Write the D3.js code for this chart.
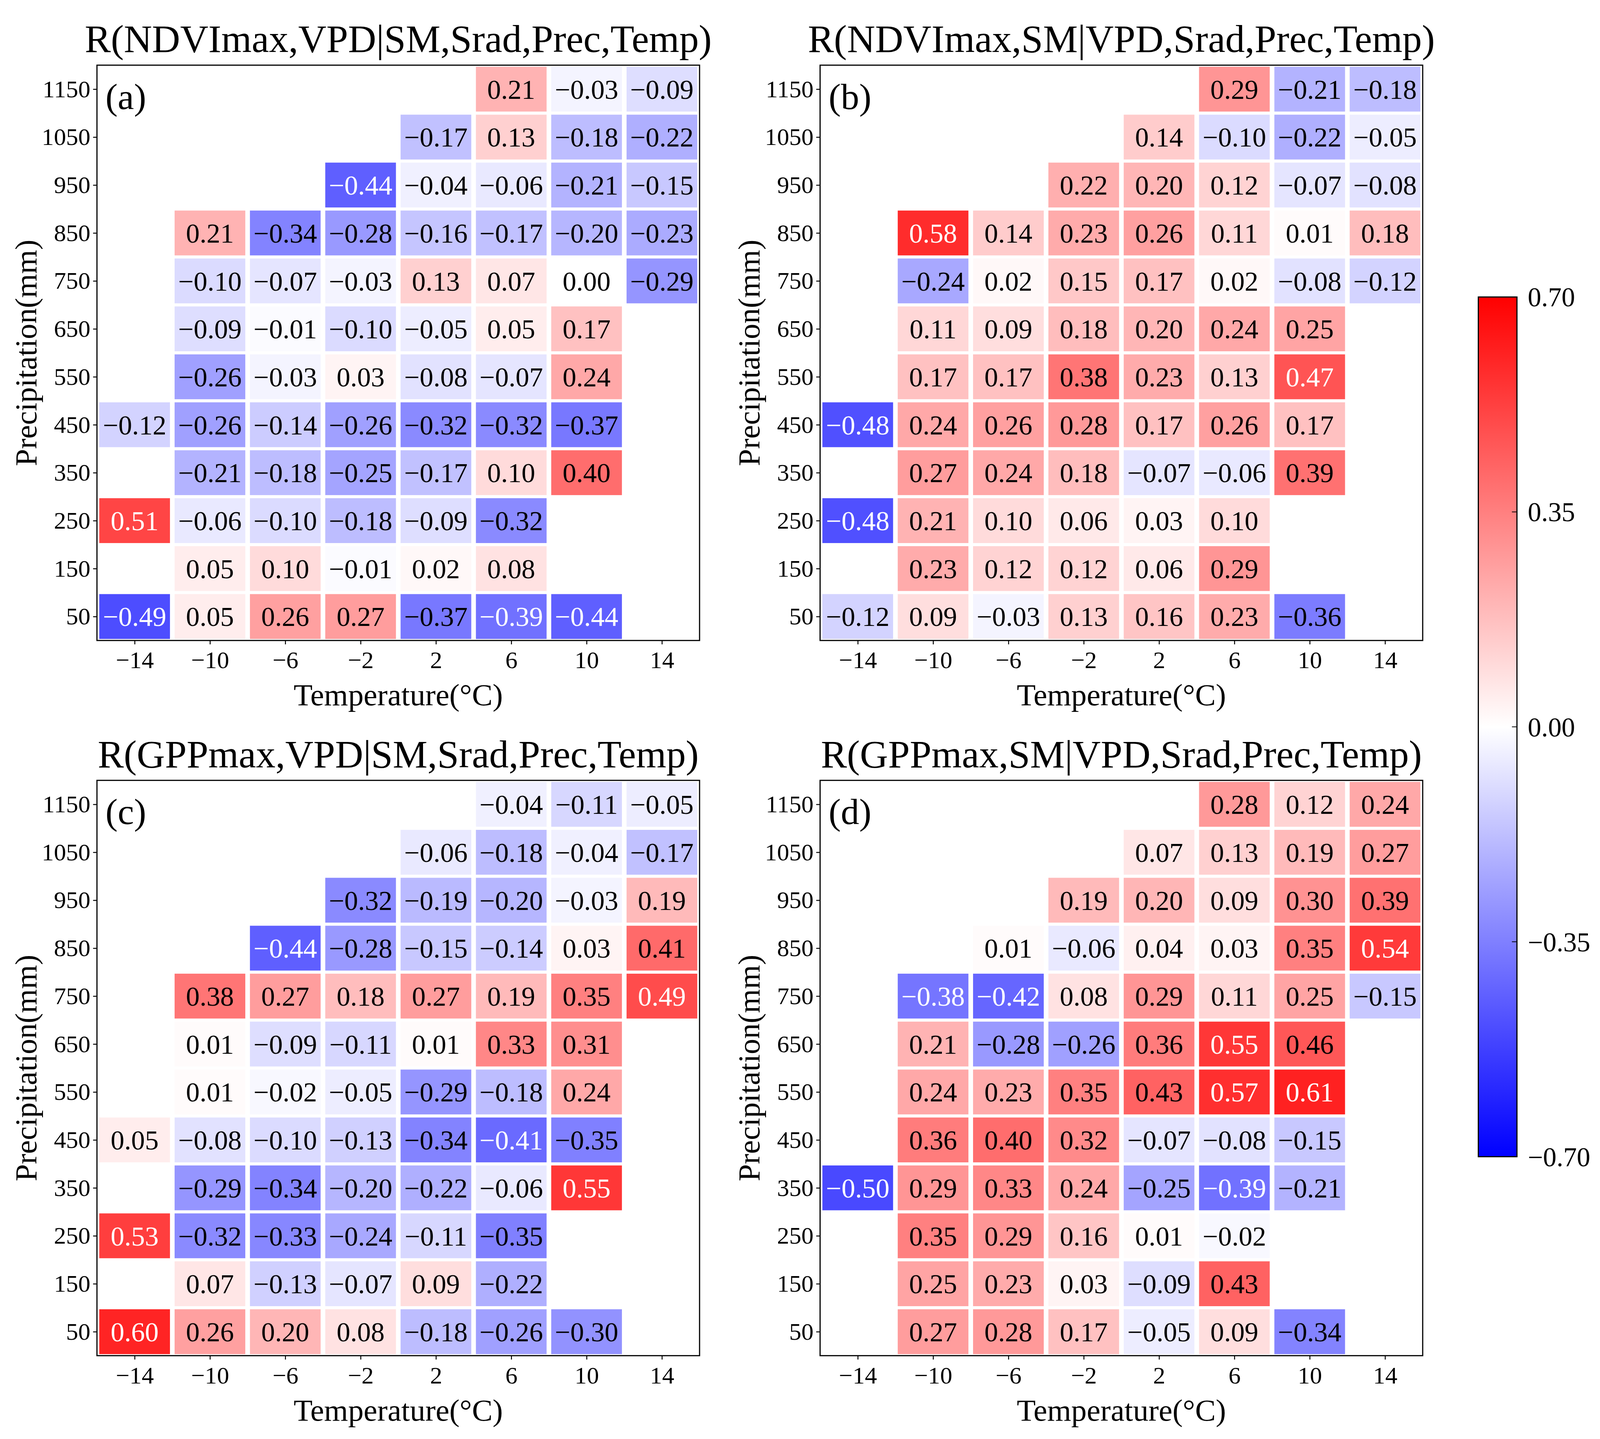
<!DOCTYPE html>
<html>
<head>
<meta charset="utf-8">
<script src="https://cdn.jsdelivr.net/npm/d3@7"></script>
<style>
  html, body { margin: 0; padding: 0; background: #fff; overflow: hidden; }
  svg { display: block; width: 100vw; height: 100vh; }
</style>
</head>
<body>
<div id="chart"></div>
<script>
const width = 4142;
const height = 3683;

// grid categories
const temps = [-14, -10, -6, -2, 2, 6, 10, 14];
const precs = [1150, 1050, 950, 850, 750, 650, 550, 450, 350, 250, 150, 50];
const cbTicks = [0.70, 0.35, 0.00, -0.35, -0.70];

const titles = [
    "R(NDVImax,VPD|SM,Srad,Prec,Temp)",
    "R(NDVImax,SM|VPD,Srad,Prec,Temp)",
    "R(GPPmax,VPD|SM,Srad,Prec,Temp)",
    "R(GPPmax,SM|VPD,Srad,Prec,Temp)"
];
const tags = ["(a)", "(b)", "(c)", "(d)"];

// rows follow precs (1150 at top), columns follow temps
const n = null;
const ndviVpd = [
    [n, n, n, n, n, 0.21, -0.03, -0.09],
    [n, n, n, n, -0.17, 0.13, -0.18, -0.22],
    [n, n, n, -0.44, -0.04, -0.06, -0.21, -0.15],
    [n, 0.21, -0.34, -0.28, -0.16, -0.17, -0.20, -0.23],
    [n, -0.10, -0.07, -0.03, 0.13, 0.07, 0.00, -0.29],
    [n, -0.09, -0.01, -0.10, -0.05, 0.05, 0.17, n],
    [n, -0.26, -0.03, 0.03, -0.08, -0.07, 0.24, n],
    [-0.12, -0.26, -0.14, -0.26, -0.32, -0.32, -0.37, n],
    [n, -0.21, -0.18, -0.25, -0.17, 0.10, 0.40, n],
    [0.51, -0.06, -0.10, -0.18, -0.09, -0.32, n, n],
    [n, 0.05, 0.10, -0.01, 0.02, 0.08, n, n],
    [-0.49, 0.05, 0.26, 0.27, -0.37, -0.39, -0.44, n]
];
const ndviSm = [
    [n, n, n, n, n, 0.29, -0.21, -0.18],
    [n, n, n, n, 0.14, -0.10, -0.22, -0.05],
    [n, n, n, 0.22, 0.20, 0.12, -0.07, -0.08],
    [n, 0.58, 0.14, 0.23, 0.26, 0.11, 0.01, 0.18],
    [n, -0.24, 0.02, 0.15, 0.17, 0.02, -0.08, -0.12],
    [n, 0.11, 0.09, 0.18, 0.20, 0.24, 0.25, n],
    [n, 0.17, 0.17, 0.38, 0.23, 0.13, 0.47, n],
    [-0.48, 0.24, 0.26, 0.28, 0.17, 0.26, 0.17, n],
    [n, 0.27, 0.24, 0.18, -0.07, -0.06, 0.39, n],
    [-0.48, 0.21, 0.10, 0.06, 0.03, 0.10, n, n],
    [n, 0.23, 0.12, 0.12, 0.06, 0.29, n, n],
    [-0.12, 0.09, -0.03, 0.13, 0.16, 0.23, -0.36, n]
];
const gppVpd = [
    [n, n, n, n, n, -0.04, -0.11, -0.05],
    [n, n, n, n, -0.06, -0.18, -0.04, -0.17],
    [n, n, n, -0.32, -0.19, -0.20, -0.03, 0.19],
    [n, n, -0.44, -0.28, -0.15, -0.14, 0.03, 0.41],
    [n, 0.38, 0.27, 0.18, 0.27, 0.19, 0.35, 0.49],
    [n, 0.01, -0.09, -0.11, 0.01, 0.33, 0.31, n],
    [n, 0.01, -0.02, -0.05, -0.29, -0.18, 0.24, n],
    [0.05, -0.08, -0.10, -0.13, -0.34, -0.41, -0.35, n],
    [n, -0.29, -0.34, -0.20, -0.22, -0.06, 0.55, n],
    [0.53, -0.32, -0.33, -0.24, -0.11, -0.35, n, n],
    [n, 0.07, -0.13, -0.07, 0.09, -0.22, n, n],
    [0.60, 0.26, 0.20, 0.08, -0.18, -0.26, -0.30, n]
];
const gppSm = [
    [n, n, n, n, n, 0.28, 0.12, 0.24],
    [n, n, n, n, 0.07, 0.13, 0.19, 0.27],
    [n, n, n, 0.19, 0.20, 0.09, 0.30, 0.39],
    [n, n, 0.01, -0.06, 0.04, 0.03, 0.35, 0.54],
    [n, -0.38, -0.42, 0.08, 0.29, 0.11, 0.25, -0.15],
    [n, 0.21, -0.28, -0.26, 0.36, 0.55, 0.46, n],
    [n, 0.24, 0.23, 0.35, 0.43, 0.57, 0.61, n],
    [n, 0.36, 0.40, 0.32, -0.07, -0.08, -0.15, n],
    [-0.50, 0.29, 0.33, 0.24, -0.25, -0.39, -0.21, n],
    [n, 0.35, 0.29, 0.16, 0.01, -0.02, n, n],
    [n, 0.25, 0.23, 0.03, -0.09, 0.43, n, n],
    [n, 0.27, 0.28, 0.17, -0.05, 0.09, -0.34, n]
];
const grids = [ndviVpd, ndviSm, gppVpd, gppSm];

const font = "'Liberation Serif', 'Times New Roman', serif";
const fmt = d3.format(".2f");

// bwr colormap
const color = d3.scaleLinear()
    .domain([-0.7, 0, 0.7])
    .range(["#0000ff", "#ffffff", "#ff0000"])
    .clamp(true);

// scale the whole figure into whatever viewport we get
const svg = d3.select("#chart")
    .append("svg")
    .attr("viewBox", `0 0 ${width} ${height}`)
    .attr("preserveAspectRatio", "xMidYMid meet");

const pw = 1560, ph = 1489;
const origins = [[251, 148], [2123, 148], [251, 1999], [2123, 1999]];

grids.forEach((grid, i) => {
    const [left, top] = origins[i];
    const g = svg.append("g").attr("transform", `translate(${left},${top})`);

    const x = d3.scaleLinear().domain([-16, 16]).range([0, pw]);
    const y = d3.scaleLinear().domain([0, 1200]).range([ph, 0]);

    const cells = [];
    grid.forEach((row, r) => row.forEach((v, c) => {
        if (v !== null) cells.push({ t: temps[c], p: precs[r], v: v });
    }));

    const padX = 6, padY = 4;
    g.selectAll("rect.cell")
        .data(cells)
        .enter().append("rect")
        .attr("class", "cell")
        .attr("x", d => x(d.t - 2) + padX)
        .attr("y", d => y(d.p + 50) + padY)
        .attr("width", d => x(d.t + 2) - x(d.t - 2) - 2 * padX)
        .attr("height", d => y(d.p - 50) - y(d.p + 50) - 2 * padY)
        .attr("fill", d => color(d.v));

    g.selectAll("text.val")
        .data(cells)
        .enter().append("text")
        .attr("class", "val")
        .attr("x", d => x(d.t))
        .attr("y", d => y(d.p))
        .attr("dy", "0.35em")
        .attr("text-anchor", "middle")
        .attr("font-family", font)
        .attr("font-size", 71)
        .attr("fill", d => (d.v <= -0.38 || d.v >= 0.47) ? "#fff" : "#000")
        .text(d => fmt(d.v));

    // frame
    g.append("rect")
        .attr("width", pw)
        .attr("height", ph)
        .attr("fill", "none")
        .attr("stroke", "#000")
        .attr("stroke-width", 3);

    const xAxis = g.append("g")
        .attr("transform", `translate(0,${ph})`)
        .call(d3.axisBottom(x).tickValues(temps).tickSize(10).tickSizeOuter(0).tickPadding(17)
            .tickFormat(d3.format("d")));
    const yAxis = g.append("g")
        .call(d3.axisLeft(y).tickValues(precs).tickSize(10).tickSizeOuter(0).tickPadding(7)
            .tickFormat(d3.format("d")));
    [xAxis, yAxis].forEach(a => {
        a.select(".domain").remove();
        a.selectAll("line").attr("stroke-width", 2.5);
        a.selectAll("text").attr("font-family", font).attr("font-size", 63).attr("fill", "#000");
    });

    g.append("text")
        .attr("x", pw / 2)
        .attr("y", -34)
        .attr("text-anchor", "middle")
        .attr("font-family", font)
        .attr("font-size", 101)
        .text(titles[i]);

    g.append("text")
        .attr("x", 22)
        .attr("y", 113)
        .attr("font-family", font)
        .attr("font-size", 95)
        .text(tags[i]);

    g.append("text")
        .attr("x", pw / 2)
        .attr("y", ph + 168)
        .attr("text-anchor", "middle")
        .attr("font-family", font)
        .attr("font-size", 80)
        .text("Temperature(°C)");

    g.append("text")
        .attr("transform", `translate(-157,${ph / 2}) rotate(-90)`)
        .attr("text-anchor", "middle")
        .attr("font-family", font)
        .attr("font-size", 80)
        .text("Precipitation(mm)");
});

// colorbar
const cbX = 3827, cbW = 100, cbTop = 748, cbBottom = 2973;
const cbY = d3.scaleLinear().domain([-0.7, 0.7]).range([cbBottom, cbTop]);

const grad = svg.append("defs").append("linearGradient")
    .attr("id", "bwr")
    .attr("x1", 0).attr("y1", 1).attr("x2", 0).attr("y2", 0);
grad.selectAll("stop")
    .data(color.domain())
    .enter().append("stop")
    .attr("offset", d => (d + 0.7) / 1.4)
    .attr("stop-color", d => color(d));

svg.append("rect")
    .attr("x", cbX)
    .attr("y", cbTop)
    .attr("width", cbW)
    .attr("height", cbBottom - cbTop)
    .attr("fill", "url(#bwr)")
    .attr("stroke", "#000")
    .attr("stroke-width", 3);

svg.selectAll("line.cbtick")
    .data(cbTicks)
    .enter().append("line")
    .attr("class", "cbtick")
    .attr("x1", cbX + cbW - 13)
    .attr("x2", cbX + cbW)
    .attr("y1", d => cbY(d))
    .attr("y2", d => cbY(d))
    .attr("stroke", "#000")
    .attr("stroke-width", 2);

svg.selectAll("text.cblab")
    .data(cbTicks)
    .enter().append("text")
    .attr("class", "cblab")
    .attr("x", cbX + cbW + 28)
    .attr("y", d => cbY(d))
    .attr("dy", "0.35em")
    .attr("font-family", font)
    .attr("font-size", 70)
    .text(d => fmt(d));
</script>
</body>
</html>
